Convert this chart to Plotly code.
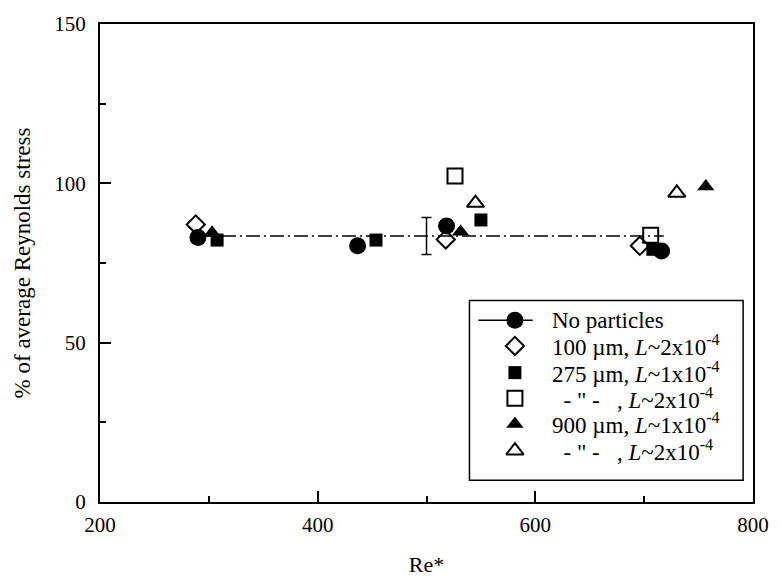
import plotly.graph_objects as go

# ---- data ----
no_part_x = [290, 436.7, 518.4, 716]
no_part_y = [83.0, 80.4, 86.6, 78.8]

d100_x = [288, 517.7, 696]
d100_y = [87.1, 82.4, 80.4]

s275_l1_x = [307.6, 453.6, 550, 708]
s275_l1_y = [82.2, 82.2, 88.5, 79.3]

s275_l2_x = [526.2, 706]
s275_l2_y = [102.3, 83.7]

t900_l1_x = [303, 531.3, 756.6]
t900_l1_y = [84.5, 84.8, 99.0]

t900_l2_x = [545, 730]
t900_l2_y = [93.8, 97.0]

mean_line_x = [290, 718]
mean_line_y = [83.5, 83.5]

errbar_x = [500]
errbar_y = [83.5]
errbar_half = [5.8]

NB = "\u00a0"
legend_names = [
    "No particles",
    "100 µm, <i>L</i>~2x10<sup>-4</sup>",
    "275 µm, <i>L</i>~1x10<sup>-4</sup>",
    NB * 2 + '- " -' + NB * 3 + ", <i>L</i>~2x10<sup>-4</sup>",
    "900 µm, <i>L</i>~1x10<sup>-4</sup>",
    NB * 2 + '- " -' + NB * 3 + ", <i>L</i>~2x10<sup>-4</sup>",
]

x_ticks = [200, 400, 600, 800]
y_ticks = [0, 50, 100, 150]

FONT = "Liberation Serif, Times New Roman, serif"
BLK = "black"

# plot area in pixels (layout)
W, H = 781, 585
ML, MR, MT, MB = 100, 20, 18, 83
PW, PH = W - ML - MR, H - MT - MB


def fx(px):
    return (px - ML) / PW


def fy(py):
    return (H - MB - py) / PH


fig = go.Figure()

# mean line (dash-dot)
fig.add_trace(go.Scatter(x=mean_line_x, y=mean_line_y, mode="lines",
                         line=dict(color=BLK, width=1.5, dash="14px,4px,2px,4px"),
                         showlegend=False, hoverinfo="skip"))
# error bar
fig.add_trace(go.Scatter(x=errbar_x, y=errbar_y, mode="markers",
                         marker=dict(size=1, color="rgba(0,0,0,0)"),
                         error_y=dict(type="data", array=errbar_half, color=BLK,
                                      thickness=1.5, width=5),
                         showlegend=False))

series = [
    (no_part_x, no_part_y, "circle", 17, 0),
    (d100_x, d100_y, "diamond-open", 14, 2),
    (s275_l1_x, s275_l1_y, "square", 13, 0),
    (s275_l2_x, s275_l2_y, "square-open", 15, 2),
    (t900_l1_x, t900_l1_y, "triangle-up", 15, 0),
    (t900_l2_x, t900_l2_y, "triangle-up-open", 15, 2),
]

for xs, ys, sym, sz, lw in series:
    fig.add_trace(go.Scatter(x=xs, y=ys, mode="markers",
                             marker=dict(symbol=sym, size=sz, color=BLK,
                                         line=dict(color=BLK, width=lw)),
                             showlegend=False))

# ---- hand-drawn legend (box, line, markers on overlay axes, text annotations) ----
leg_rows_py = [318, 344, 371, 397, 423, 450]
leg_marker_px = 520
leg_text_px = 556

fig.add_shape(type="rect", xref="paper", yref="paper",
              x0=fx(474), x1=fx(751), y0=fy(480), y1=fy(298),
              line=dict(color=BLK, width=1.5), fillcolor="white", layer="below")
fig.add_shape(type="line", xref="paper", yref="paper",
              x0=fx(483), x1=fx(538), y0=fy(leg_rows_py[0]), y1=fy(leg_rows_py[0]),
              line=dict(color=BLK, width=1.5), layer="below")

for i, (xs, ys, sym, sz, lw) in enumerate(series):
    fig.add_trace(go.Scatter(x=[fx(leg_marker_px)], y=[fy(leg_rows_py[i])],
                             xaxis="x2", yaxis="y2", mode="markers",
                             marker=dict(symbol=sym, size=sz, color=BLK,
                                         line=dict(color=BLK, width=lw)),
                             showlegend=False, hoverinfo="skip"))
    fig.add_annotation(text=legend_names[i], xref="paper", yref="paper",
                       x=fx(leg_text_px), y=fy(leg_rows_py[i]),
                       xanchor="left", yanchor="middle", showarrow=False,
                       font=dict(family=FONT, size=23, color=BLK))

fig.update_layout(
    width=W, height=H,
    margin=dict(l=ML, r=MR, t=MT, b=MB),
    paper_bgcolor="white", plot_bgcolor="white",
    font=dict(family=FONT, size=21, color=BLK),
    showlegend=False,
    xaxis=dict(range=[200, 800], tickvals=x_ticks, ticks="inside", ticklen=11,
               tickwidth=1.5, tickcolor=BLK, showgrid=False, zeroline=False,
               showline=True, linecolor=BLK, linewidth=2, mirror=True,
               ticklabelstandoff=3, tickfont=dict(size=21),
               minor=dict(tickvals=[300, 500, 700], ticks="inside", ticklen=6,
                          tickwidth=1.5, tickcolor=BLK),
               title=dict(text="Re*", font=dict(family=FONT, size=22), standoff=20)),
    yaxis=dict(range=[0, 150], tickvals=y_ticks, ticks="inside", ticklen=11,
               tickwidth=1.5, tickcolor=BLK, showgrid=False, zeroline=False,
               showline=True, linecolor=BLK, linewidth=2, mirror=True,
               ticklabelstandoff=8, tickfont=dict(size=21),
               minor=dict(tickvals=[25, 75, 125], ticks="inside", ticklen=6,
                          tickwidth=1.5, tickcolor=BLK),
               title=dict(text="% of average Reynolds stress",
                          font=dict(family=FONT, size=23), standoff=17)),
    xaxis2=dict(overlaying="x", range=[0, 1], visible=False, fixedrange=True),
    yaxis2=dict(overlaying="y", range=[0, 1], visible=False, fixedrange=True),
)

fig.write_html("out.html")
